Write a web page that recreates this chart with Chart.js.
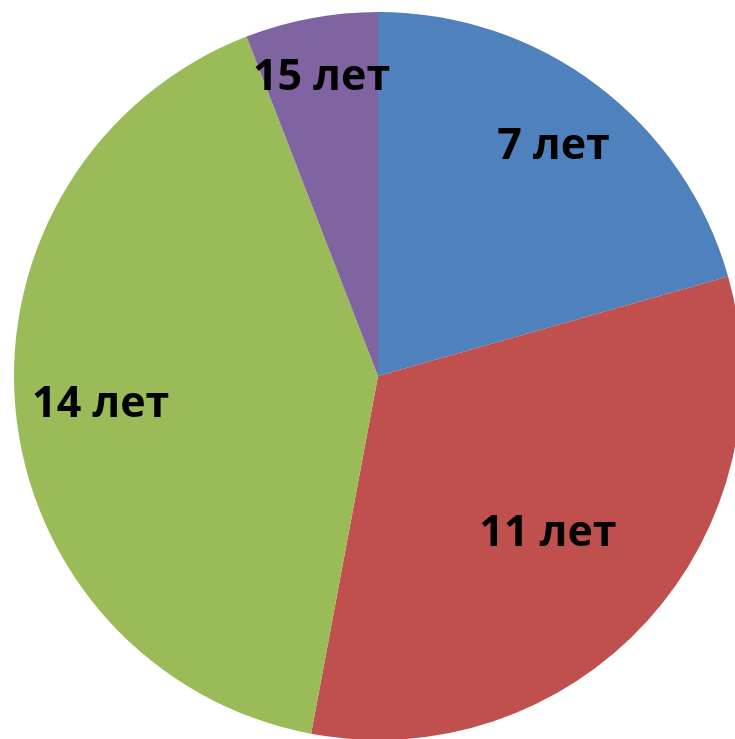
<!DOCTYPE html>
<html>
<head>
<meta charset="utf-8">
<script src="https://cdn.jsdelivr.net/npm/chart.js@4"></script>
<style>
html,body{margin:0;padding:0;background:#fff;overflow:hidden;width:735px;height:739px;}
#wrap{position:absolute;left:14px;top:12px;width:728px;height:728px;}
</style>
</head>
<body>
<div id="wrap"><canvas id="c"></canvas></div>
<script>
const categories = ["7 лет", "11 лет", "14 лет", "15 лет"];
const values = [7, 11, 14, 2];
const colors = ["#4F81BD", "#C0504D", "#9BBB59", "#8064A2"];
const labelRadius = [0.80, 0.632, 0.765, 0.843];

const labelPlugin = {
  id: 'sliceLabels',
  afterDatasetsDraw(chart) {
    const ctx = chart.ctx;
    const meta = chart.getDatasetMeta(0);
    ctx.save();
    ctx.font = 'bold 43px "Open Sans", sans-serif';
    ctx.fillStyle = '#000';
    ctx.textAlign = 'center';
    ctx.textBaseline = 'alphabetic';
    meta.data.forEach((arc, i) => {
      const p = arc.getProps(['x','y','startAngle','endAngle','outerRadius'], true);
      const mid = (p.startAngle + p.endAngle) / 2;
      const r = p.outerRadius * labelRadius[i];
      const m = ctx.measureText(categories[i]);
      const asc = m.actualBoundingBoxAscent;
      ctx.fillText(categories[i], p.x + Math.cos(mid) * r, p.y + Math.sin(mid) * r + asc / 2);
    });
    ctx.restore();
  }
};

new Chart(document.getElementById('c'), {
  type: 'pie',
  data: {
    labels: categories,
    datasets: [{
      data: values,
      backgroundColor: colors,
      borderWidth: 0
    }]
  },
  options: {
    responsive: true,
    maintainAspectRatio: false,
    animation: false,
    layout: { padding: 0 },
    plugins: { legend: { display: false }, tooltip: { enabled: false } }
  },
  plugins: [labelPlugin]
});
</script>
</body>
</html>
